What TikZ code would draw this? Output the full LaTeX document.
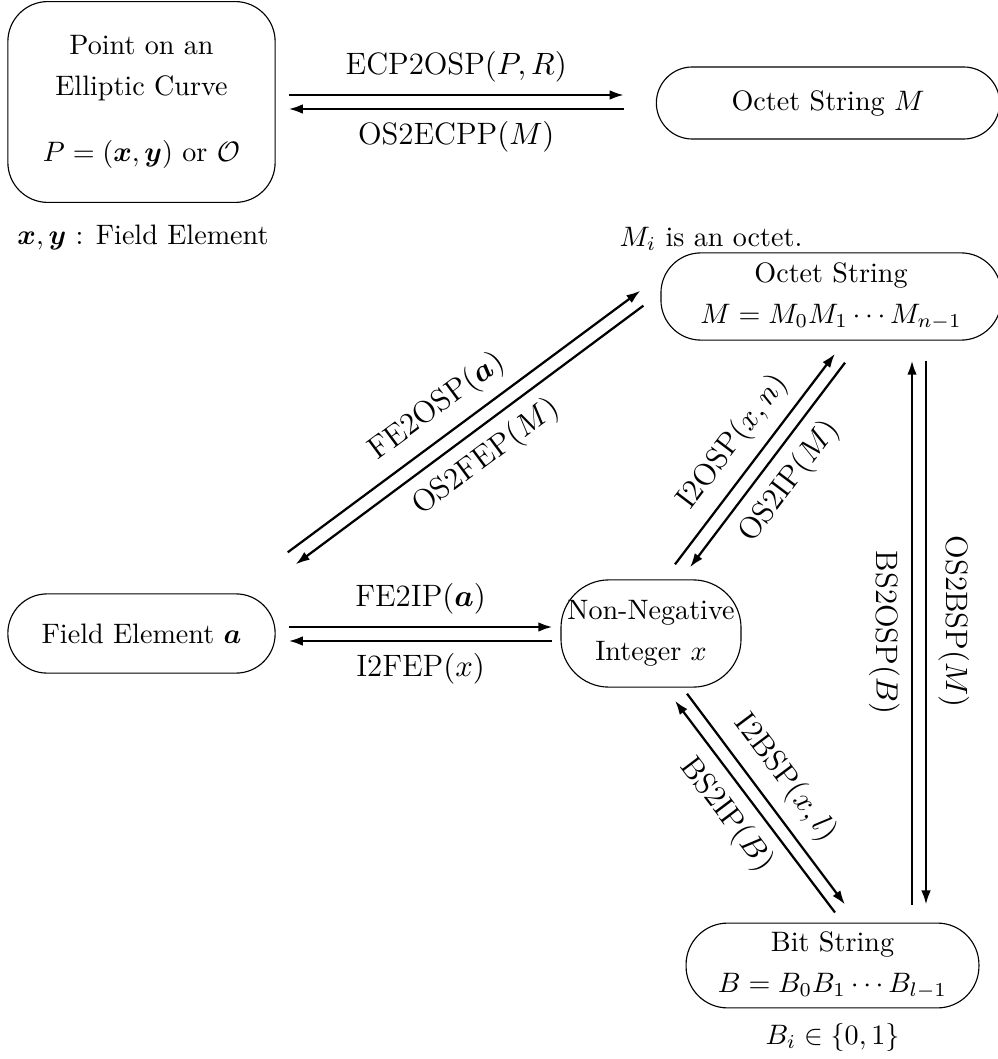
\documentclass[tikz,border=0pt]{standalone}
\usepackage{amsmath}
\usepackage{bm}
\usetikzlibrary{calc,arrows.meta}

\begin{document}
\begin{tikzpicture}[x=0.0125cm,y=-0.0125cm,
    dtype/.style={draw,thin,align=center,inner sep=0pt,font=\fontsize{10pt}{14.5pt}\selectfont},
    conv/.style={-{Latex[length=5pt,width=3.4pt]},thick},
    fname/.style={inner sep=4pt,font=\fontsize{11pt}{13pt}\selectfont}]
	\useasboundingbox (0,0) rectangle (998,1059);

	% data types
	\node[dtype,minimum width=3.34cm,minimum height=2.51cm,rounded corners=0.5cm] (pt) at (141.5,102)
	    {Point on an\\Elliptic Curve\\[9pt]$P=(\bm{x},\bm{y})$ or $\mathcal{O}$};
	\node (ptnote) at (143,237) {$\bm{x},\bm{y}$ : Field Element};

	\node[dtype,minimum width=4.29cm,minimum height=0.9cm,rounded corners=0.45cm] (osm) at (828,103)
	    {Octet String $M$};
	\node (osnote) at (711,239) {$M_i$ is an octet.};

	\node[dtype,minimum width=4.25cm,minimum height=1.09cm,rounded corners=0.5cm] (os) at (831,296.5)
	    {Octet String\\$M=M_0M_1\cdots M_{n-1}$};

	\node[dtype,minimum width=3.34cm,minimum height=0.99cm,rounded corners=0.49cm] (fe) at (141.5,633.5)
	    {Field Element $\bm{a}$};

	\node[dtype,minimum width=2.25cm,minimum height=1.34cm,rounded corners=0.6cm] (nni) at (651,633.5)
	    {Non-Negative\\Integer $x$};

	\node[dtype,minimum width=3.66cm,minimum height=1.06cm,rounded corners=0.52cm] (bs) at (832.5,965.5)
	    {Bit String\\$B=B_0B_1\cdots B_{l-1}$};
	\node (bsnote) at (832.5,1037) {$B_i\in\{0,1\}$};

	% conversions
	\draw[conv] ($(pt.east)+(13,-7)$) -- node[fname,above] {ECP2OSP$(P,R)$} ($(osm.west)+(-32,-8)$);
	\draw[conv] ($(osm.west)+(-32,6)$) -- node[fname,below] {OS2ECPP$(M)$} ($(pt.east)+(13,7)$);

	\draw[conv] ($(fe.east)+(13,-6.5)$) -- node[fname,above] {FE2IP$(\bm{a})$} ($(nni.west)+(-8,-6.5)$);
	\draw[conv] ($(nni.west)+(-8,7.5)$) -- node[fname,below] {I2FEP$(x)$} ($(fe.east)+(13,7.5)$);

	\draw[conv] ($(fe.north east)+(12,-41)$) -- node[fname,sloped,above,pos=.47] {FE2OSP$(\bm{a})$} ($(os.south west)+(-20,-50)$);
	\draw[conv] ($(os.south west)+(-17,-35)$) -- node[fname,sloped,below] {OS2FEP$(M)$} ($(fe.north east)+(20,-29)$);

	\draw[conv] ($(nni.north)+(24,-15)$) -- node[fname,sloped,above] {I2OSP$(x,n)$} ($(os.south)+(4,13)$);
	\draw[conv] ($(os.south)+(14,22)$) -- node[fname,sloped,below] {OS2IP$(M)$} ($(nni.north)+(39,-12)$);

	\draw[conv] ($(nni.south)+(36,6)$) -- node[fname,sloped,above,pos=.48] {I2BSP$(x,l)$} ($(bs.north)+(12.5,-18)$);
	\draw[conv] ($(bs.north)+(2.5,-10)$) -- node[fname,sloped,below,pos=.54] {BS2IP$(B)$} ($(nni.south)+(24,13)$);

	\draw[conv] ($(bs.north)+(79.5,-18)$) -- node[fname,rotate=-90,below,pos=.5] {BS2OSP$(B)$} ($(os.south)+(81,20)$);
	\draw[conv] ($(os.south)+(95,20)$) -- node[fname,rotate=-90,above,pos=.48] {OS2BSP$(M)$} ($(bs.north)+(93.5,-18)$);

\end{tikzpicture}
\end{document}
